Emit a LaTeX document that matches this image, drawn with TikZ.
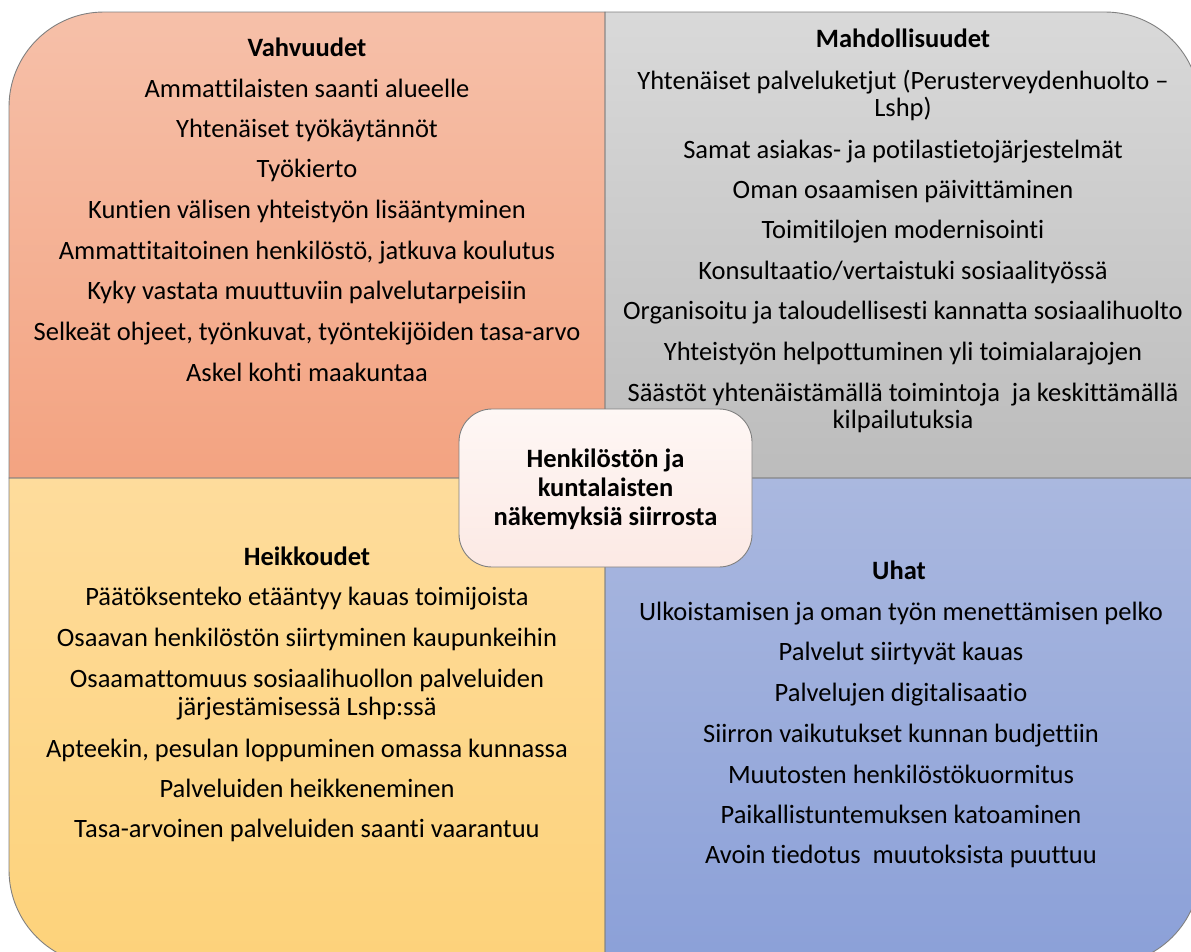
\documentclass[tikz,border=0pt]{standalone}
\usepackage{fontspec}
\setmainfont[Ligatures=NoCommon]{Carlito}
\begin{document}
\begin{tikzpicture}[x=1pt,y=-1pt,
  quad/.style={draw=black!50,line width=0.9pt},
  item/.style={anchor=base,inner sep=0pt,font=\fontsize{26.5}{32}\selectfont},
  head/.style={item,font=\fontsize{26.5}{32}\selectfont\bfseries},
  centertext/.style={anchor=base,inner sep=0pt,font=\fontsize{26.5}{32}\selectfont\bfseries}
]
\useasboundingbox (0,0) rectangle (1191,951);
\clip (0,0) rectangle (1191,951);
\definecolor{tlT}{HTML}{F6C0A9}\definecolor{tlB}{HTML}{F3A381}
\definecolor{trT}{HTML}{D9D9D9}\definecolor{trB}{HTML}{BCBCBC}
\definecolor{blT}{HTML}{FEDC9C}\definecolor{blB}{HTML}{FDD27A}
\definecolor{brT}{HTML}{AAB8DF}\definecolor{brB}{HTML}{8BA0D8}
\definecolor{cT}{HTML}{FEF7F5}\definecolor{cB}{HTML}{FCE9E4}
% quadrants
\shade[top color=tlT,bottom color=tlB] (605,478) -- (9,478) -- (9,107) .. controls (9,54.5) and (51.5,12) .. (104,12) -- (605,12) -- cycle;
\shade[top color=trT,bottom color=trB] (605,478) -- (605,12) -- (1105,12) .. controls (1157.5,12) and (1200,54.5) .. (1200,107) -- (1200,478) -- cycle;
\shade[top color=blT,bottom color=blB] (605,478) -- (9,478) -- (9,870) .. controls (9,922.5) and (51.5,965) .. (104,965) -- (605,965) -- cycle;
\shade[top color=brT,bottom color=brB] (605,478) -- (1200,478) -- (1200,870) .. controls (1200,922.5) and (1157.5,965) .. (1105,965) -- (605,965) -- cycle;
\draw[quad] (605,478) -- (9,478) -- (9,107) .. controls (9,54.5) and (51.5,12) .. (104,12) -- (605,12) -- cycle;
\draw[quad] (605,478) -- (605,12) -- (1105,12) .. controls (1157.5,12) and (1200,54.5) .. (1200,107) -- (1200,478) -- cycle;
\draw[quad] (605,478) -- (9,478) -- (9,870) .. controls (9,922.5) and (51.5,965) .. (104,965) -- (605,965) -- cycle;
\draw[quad] (605,478) -- (1200,478) -- (1200,870) .. controls (1200,922.5) and (1157.5,965) .. (1105,965) -- (605,965) -- cycle;
% top-left
\node[head] (s0) at (307,56) {Vahvuudet};
\node[item] (s1) at (307,97) {Ammattilaisten saanti alueelle};
\node[item] (s2) at (307,137) {Yhtenäiset työkäytännöt};
\node[item] (s3) at (307,177) {Työkierto};
\node[item] (s4) at (307,218) {Kuntien välisen yhteistyön lisääntyminen};
\node[item] (s5) at (307,259) {Ammattitaitoinen henkilöstö, jatkuva koulutus};
\node[item] (s6) at (307,299) {Kyky vastata muuttuviin palvelutarpeisiin};
\node[item] (s7) at (307,340) {Selkeät ohjeet, työnkuvat, työntekijöiden tasa-arvo};
\node[item] (s8) at (307,381) {Askel kohti maakuntaa};
% top-right
\node[head] (o0) at (903,47) {Mahdollisuudet};
\node[item] (o1) at (903,89) {Yhtenäiset palveluketjut (Perusterveydenhuolto –};
\node[item] (o1b) at (903,116) {Lshp)};
\node[item] (o2) at (903,158) {Samat asiakas- ja potilastietojärjestelmät};
\node[item] (o3) at (903,198) {Oman osaamisen päivittäminen};
\node[item] (o4) at (903,238) {Toimitilojen modernisointi};
\node[item] (o5) at (903,279) {Konsultaatio/vertaistuki sosiaalityössä};
\node[item] (o6) at (903,319) {Organisoitu ja taloudellisesti kannatta sosiaalihuolto};
\node[item] (o7) at (903,360) {Yhteistyön helpottuminen yli toimialarajojen};
\node[item] (o8) at (903,401) {Säästöt yhtenäistämällä toimintoja\ \ ja keskittämällä};
\node[item] (o8b) at (903,428) {kilpailutuksia};
% bottom-left
\node[head] (w0) at (307,565) {Heikkoudet};
\node[item] (w1) at (307,605) {Päätöksenteko etääntyy kauas toimijoista};
\node[item] (w2) at (307,646) {Osaavan henkilöstön siirtyminen kaupunkeihin};
\node[item] (w3) at (307,687) {Osaamattomuus sosiaalihuollon palveluiden};
\node[item] (w3b) at (307,715) {järjestämisessä Lshp:ssä};
\node[item] (w4) at (307,757) {Apteekin, pesulan loppuminen omassa kunnassa};
\node[item] (w5) at (307,797) {Palveluiden heikkeneminen};
\node[item] (w6) at (307,837) {Tasa-arvoinen palveluiden saanti vaarantuu};
% bottom-right
\node[head] (t0) at (899,579) {Uhat};
\node[item] (t1) at (901,620) {Ulkoistamisen ja oman työn menettämisen pelko};
\node[item] (t2) at (901,660) {Palvelut siirtyvät kauas};
\node[item] (t3) at (901,701) {Palvelujen digitalisaatio};
\node[item] (t4) at (901,742) {Siirron vaikutukset kunnan budjettiin};
\node[item] (t5) at (901,783) {Muutosten henkilöstökuormitus};
\node[item] (t6) at (901,823) {Paikallistuntemuksen katoaminen};
\node[item] (t7) at (901,863) {Avoin tiedotus\ \ muutoksista puuttuu};
% centre
\shade[top color=cT,bottom color=cB,rounded corners=33pt] (459,409) rectangle (752,567);
\draw[draw=black!50,line width=0.9pt,rounded corners=33pt] (459,409) rectangle (752,567);
\node[centertext] (c1) at (605.5,467) {Henkilöstön ja};
\node[centertext] (c2) at (605.5,496) {kuntalaisten};
\node[centertext] (c3) at (605.5,525) {näkemyksiä siirrosta};
\end{tikzpicture}
\end{document}
